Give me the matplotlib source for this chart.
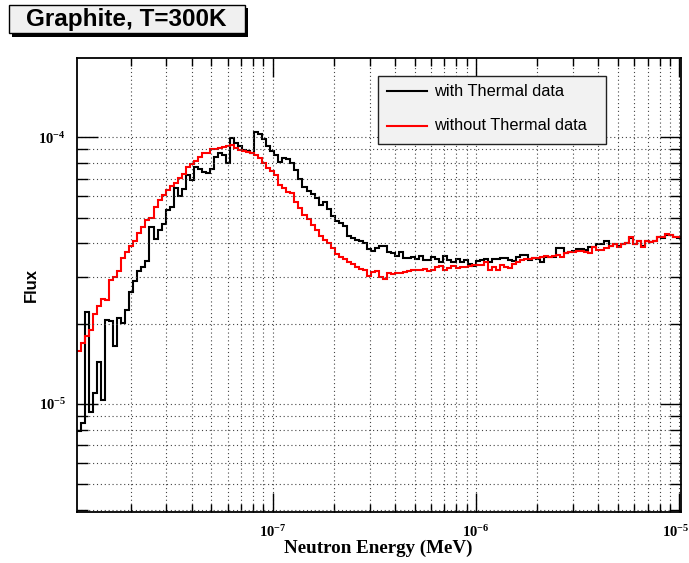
import numpy as np
import matplotlib
matplotlib.use('Agg')
import matplotlib.pyplot as plt
from matplotlib.patches import Rectangle
from matplotlib.lines import Line2D
from matplotlib.ticker import LogLocator, NullFormatter, FuncFormatter
from matplotlib.transforms import ScaledTranslation

plt.rcParams['mathtext.fontset'] = 'custom'
plt.rcParams['mathtext.rm'] = 'Liberation Serif:bold'
plt.rcParams['mathtext.bf'] = 'Liberation Serif:bold'

# energy range of the histogram (MeV), log bins
e_min, e_max = 1.09e-8, 1.02e-5
n_bins = 150

# flux per bin, in units of 1e-5
flux_with_thermal = [
    0.79, 0.85, 2.22, 0.93, 1.10, 1.44, 1.04, 2.06, 2.05, 1.65,
    2.11, 2.02, 2.25, 2.63, 2.90, 3.16, 3.27, 3.44, 4.61, 4.15,
    4.48, 4.72, 5.33, 5.48, 6.43, 6.03, 6.40, 7.20, 6.90, 7.74,
    7.57, 7.41, 7.35, 7.59, 8.44, 8.69, 8.61, 7.97, 9.89, 9.47,
    9.28, 8.94, 8.87, 8.69, 10.47, 10.25, 9.85, 9.25, 8.90, 8.60,
    8.10, 8.35, 8.30, 7.97, 7.55, 7.00, 6.50, 6.30, 6.10, 5.90,
    5.55, 5.72, 5.40, 5.05, 4.85, 4.75, 4.65, 4.25, 4.20, 4.12,
    4.07, 4.00, 3.80, 3.76, 3.83, 3.92, 3.90, 3.70, 3.68, 3.60,
    3.72, 3.52, 3.53, 3.55, 3.50, 3.60, 3.46, 3.48, 3.56, 3.51,
    3.41, 3.60, 3.46, 3.41, 3.51, 3.41, 3.48, 3.36, 3.30, 3.43,
    3.46, 3.51, 3.41, 3.51, 3.49, 3.53, 3.53, 3.46, 3.43, 3.56,
    3.61, 3.61, 3.46, 3.53, 3.51, 3.41, 3.56, 3.56, 3.56, 3.85,
    3.85, 3.67, 3.72, 3.74, 3.80, 3.80, 3.79, 3.88, 3.88, 3.98,
    3.98, 4.09, 3.91, 3.98, 3.90, 3.97, 4.01, 4.18, 3.99, 4.08,
    3.90, 4.07, 4.05, 4.10, 4.22, 4.20, 4.31, 4.29, 4.24, 4.20,
]
flux_without_thermal = [
    1.58, 1.69, 1.80, 1.89, 2.17, 2.33, 2.48, 2.45, 2.91, 3.00,
    3.14, 3.54, 3.70, 3.92, 4.09, 4.38, 4.61, 4.89, 5.00, 5.48,
    5.81, 6.06, 6.35, 6.55, 6.74, 7.05, 7.30, 7.74, 7.90, 8.13,
    8.44, 8.69, 8.75, 9.00, 9.05, 9.10, 9.15, 9.25, 9.33, 9.07,
    8.94, 8.90, 8.81, 8.69, 8.60, 8.35, 8.00, 7.65, 7.45, 7.20,
    6.60, 6.45, 6.24, 6.16, 5.72, 5.45, 5.10, 4.92, 4.67, 4.50,
    4.25, 4.11, 4.03, 3.85, 3.65, 3.56, 3.50, 3.41, 3.36, 3.27,
    3.22, 3.17, 3.02, 3.13, 3.15, 3.00, 2.95, 3.10, 3.08, 3.10,
    3.10, 3.13, 3.15, 3.17, 3.17, 3.17, 3.22, 3.15, 3.17, 3.27,
    3.30, 3.17, 3.24, 3.30, 3.24, 3.27, 3.27, 3.30, 3.31, 3.33,
    3.33, 3.41, 3.17, 3.27, 3.17, 3.31, 3.27, 3.24, 3.36, 3.41,
    3.46, 3.51, 3.49, 3.53, 3.53, 3.56, 3.60, 3.56, 3.60, 3.61,
    3.56, 3.67, 3.72, 3.72, 3.74, 3.74, 3.72, 3.67, 3.88, 3.79,
    3.79, 3.83, 3.91, 3.98, 3.88, 3.98, 4.00, 4.21, 3.98, 4.09,
    3.88, 4.09, 4.04, 4.09, 4.23, 4.21, 4.33, 4.30, 4.23, 4.21,
]
legend_labels = ['with Thermal data', 'without Thermal data']
title = 'Graphite, T=300K'

W, H = 689, 563


def fx(x):
    return x / W


def fy(y):
    return 1 - y / H


fig = plt.figure(figsize=(W / 100, H / 100), dpi=100)
ax = fig.add_axes([fx(77), fy(512), (681 - 77) / W, (512 - 58) / H])

edges = np.logspace(np.log10(e_min), np.log10(e_max), n_bins + 1)
ax.stairs(np.array(flux_with_thermal) * 1e-5, edges, color='black', lw=1.5, baseline=None)
ax.stairs(np.array(flux_without_thermal) * 1e-5, edges, color='red', lw=1.5, baseline=None)

ax.set_xscale('log')
ax.set_yscale('log')
ax.set_xlim(e_min, e_max)
ax.set_ylim(3.94e-6, 1.98e-4)

for axis in (ax.xaxis, ax.yaxis):
    axis.set_major_locator(LogLocator(base=10, numticks=20))
    axis.set_minor_locator(LogLocator(base=10, subs=np.arange(2, 10), numticks=20))
    axis.set_minor_formatter(NullFormatter())


def pow_label(v, pos):
    return r'$\mathbf{10^{%d}}$' % int(round(np.log10(v)))


ax.xaxis.set_major_formatter(FuncFormatter(pow_label))
ax.yaxis.set_major_formatter(FuncFormatter(pow_label))

ax.grid(True, which='both', color='#444444', linestyle=(0, (1, 2.5)), lw=0.8)
ax.tick_params(which='both', direction='in', top=True, right=True, color='black', width=1.0)
ax.tick_params(axis='x', which='major', length=14, pad=9, labelsize=10.5)
ax.tick_params(axis='x', which='minor', length=6)
ax.tick_params(axis='y', which='major', length=15, pad=8, labelsize=10.5)
ax.tick_params(axis='y', which='minor', length=8)
for sp in ax.spines.values():
    sp.set_linewidth(1.3)

# the last x label sits on the figure edge, nudge it left a little
fig.canvas.draw()
for tick in ax.xaxis.get_major_ticks():
    if abs(np.log10(tick.get_loc()) + 5) < 1e-6:
        lab = tick.label1
        lab.set_transform(lab.get_transform() + ScaledTranslation(-4 / 100, 0, fig.dpi_scale_trans))

fig.text(fx(378), fy(548), 'Neutron Energy (MeV)', ha='center', va='center',
         family='Liberation Serif', weight='bold', fontsize=13.7)
fig.text(fx(31), fy(285), 'Flux', ha='center', va='center', rotation=90,
         family='Liberation Sans', weight='bold', fontsize=12)

# title box with shadow
fig.patches.append(Rectangle((fx(12), fy(36.5)), (245 - 9) / W, (33 - 4.5) / H,
                             transform=fig.transFigure, facecolor='black', edgecolor='none'))
fig.patches.append(Rectangle((fx(9), fy(33)), (245 - 9) / W, (33 - 4.5) / H,
                             transform=fig.transFigure, facecolor='#f0f0f0', edgecolor='black', lw=1.0))
fig.text(fx(126), fy(19.5), title, ha='center', va='center',
         family='Liberation Sans', weight='bold', fontsize=17.5)

# legend box
fig.patches.append(Rectangle((fx(378), fy(143.5)), (606 - 378) / W, (143.5 - 75.7) / H,
                             transform=fig.transFigure, facecolor='#f2f2f2', edgecolor='#222222', lw=1.0,
                             zorder=5))
for yy, col, lab in zip([91, 125.5], ['black', 'red'], legend_labels):
    fig.lines.append(Line2D([fx(387), fx(427)], [fy(yy), fy(yy)], transform=fig.transFigure,
                            color=col, lw=1.5, zorder=6))
    fig.text(fx(434), fy(yy), lab, ha='left', va='center', family='Liberation Sans',
             fontsize=11.8, zorder=6)

fig.savefig('out.png', dpi=100)
